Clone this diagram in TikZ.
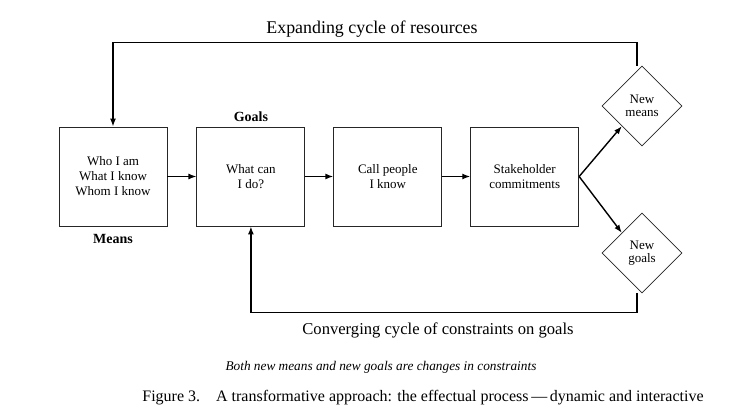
\documentclass[tikz,border=0pt]{standalone}
\usepackage{fontspec}
\setmainfont{Liberation Serif}
\usetikzlibrary{shapes.geometric, arrows.meta, positioning}
\tikzset{
  stage/.style={rectangle, draw=black!85, line width=0.9pt, minimum width=108pt, minimum height=99pt,
                inner sep=0pt, align=center, font=\fontsize{13}{15}\selectfont},
  newbox/.style={diamond, draw=black!85, line width=0.8pt, minimum size=80pt, inner sep=0pt,
                 align=center, font=\fontsize{13}{13.5}\selectfont},
  flow/.style={-{Latex[length=8pt, width=6pt]}, line width=1.4pt},
  tag/.style={font=\bfseries\fontsize{14}{16}\selectfont},
  looplabel/.style={font=\fontsize{16.6}{19}\selectfont},
  note/.style={font=\itshape\fontsize{13.3}{15}\selectfont}
}
\begin{document}
\begin{tikzpicture}[x=1pt, y=-1pt, node distance=28pt]
  \useasboundingbox (0,0) rectangle (744,414);
  \node[stage] (means) at (113,176.5) {Who I am\\What I know\\Whom I know};
  \node[stage, right=29pt of means] (goals) {What can\\I do?};
  \node[stage, right=of goals] (call) {Call people\\I know};
  \node[stage, right=of call] (commit) {Stakeholder\\commitments};
  \node[newbox] (newmeans) at (642,106) {New\\means};
  \node[newbox] (newgoals) at (642,253) {New\\goals};
  \node[tag, above=1pt of goals] (goalstag) {Goals};
  \node[tag, below=4pt of means] (meanstag) {Means};

  \draw[flow] (means) -- (goals);
  \draw[flow] (goals) -- (call);
  \draw[flow] (call) -- (commit);
  \draw[flow] (commit.east) -- (newmeans.south west);
  \draw[flow] (commit.east) -- (newgoals.north west);
  \draw[flow] ([xshift=-5pt]newmeans.north) -- ++(0,-23) -| (means.north);
  \draw[flow] ([xshift=-5pt]newgoals.south) -- ++(0,19) -| (goals.south);

  \node[looplabel, font=\fontsize{17.9}{20}\selectfont] (expand) at (372,29) {Expanding cycle of resources};
  \node[looplabel] (converge) at (438,330) {Converging cycle of constraints on goals};
  \node[note] (both) at (381,367) {Both new means and new goals are changes in constraints};
  \node[font=\fontsize{16}{18}\selectfont] (caption) at (423,398)
    {Figure 3.\hspace{1em}A transformative approach: the effectual process\,---\,dynamic and interactive};
\end{tikzpicture}
\end{document}
